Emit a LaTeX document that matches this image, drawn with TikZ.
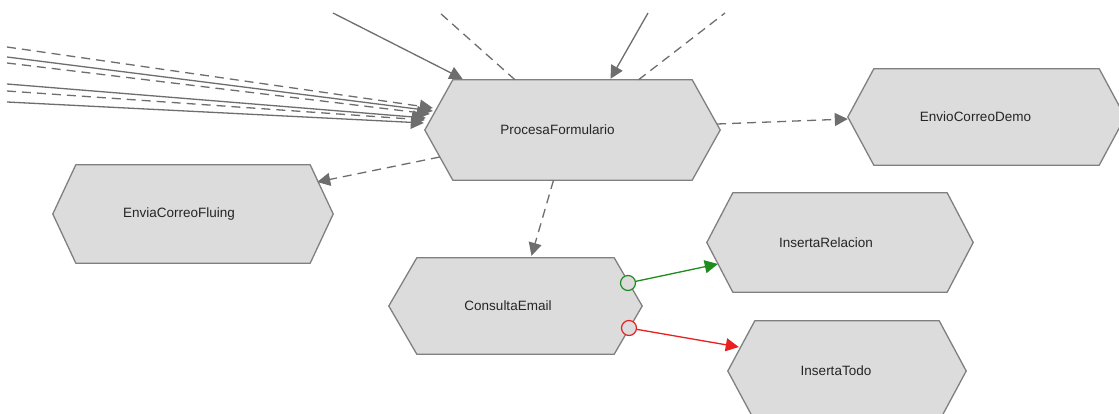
\documentclass[tikz,border=0pt]{standalone}
\usepackage{fontspec}
\setmainfont{Liberation Sans}
\usetikzlibrary{arrows.meta,calc,backgrounds}
\definecolor{hexfill}{HTML}{DCDCDC}
\definecolor{hexline}{HTML}{808080}
\definecolor{edgegray}{HTML}{6E6E6E}
\definecolor{txtgray}{HTML}{252525}
\definecolor{okgreen}{HTML}{1E8C1E}
\definecolor{errred}{HTML}{E82020}
\tikzset{
  hexnode/.style={rectangle, inner sep=0pt, draw=none, text=txtgray,
    font=\fontsize{13.5}{16}\selectfont},
  hexpath/.style={fill=hexfill, draw=hexline, line width=1.3pt, line join=round},
  flow/.style={draw=edgegray, line width=1.3pt},
  dflow/.style={draw=edgegray, line width=1.3pt, dash pattern=on 9pt off 6pt},
  tip/.style={-{Triangle[length=13pt,width=13pt]}},
  port/.style={circle, minimum size=15pt, inner sep=0pt, fill=hexfill, line width=1.2pt},
}
\newcommand\hexoutline[2]{%
  \path[hexpath] (#1.west) -- ($(#1.north west)+(#2,0)$) -- ($(#1.north east)+(-#2,0)$)
    -- (#1.east) -- ($(#1.south east)+(-#2,0)$) -- ($(#1.south west)+(#2,0)$) -- cycle;}
\begin{document}
\begin{tikzpicture}[x=1pt,y=-1pt]
\useasboundingbox (0,0) rectangle (1119,414);

% nodes
\node[hexnode, minimum width=295pt, minimum height=100pt] (pf) at (572.5,130) {ProcesaFormulario\kern30pt\relax};
\node[hexnode, minimum width=277pt, minimum height=96pt] (ecd) at (986.5,117) {EnvioCorreoDemo\kern22pt\relax};
\node[hexnode, minimum width=280pt, minimum height=98pt] (ecf) at (193,214) {EnviaCorreoFluing\kern28pt\relax};
\node[hexnode, minimum width=253pt, minimum height=96pt] (ce) at (515.5,306) {ConsultaEmail\kern15pt\relax};
\node[hexnode, minimum width=266pt, minimum height=99pt] (ir) at (840,242.5) {InsertaRelacion\kern28pt\relax};
\node[hexnode, minimum width=238pt, minimum height=100pt] (it) at (847,371) {InsertaTodo\kern22pt\relax};

\begin{pgfonlayer}{background}
  \fill[white] (0,0) rectangle (1119,414);
  \clip (0,0) rectangle (1119,414);
  \hexoutline{pf}{28}
  \hexoutline{ecd}{26}
  \hexoutline{ecf}{23}
  \hexoutline{ce}{28}
  \hexoutline{ir}{26}
  \hexoutline{it}{27}
\end{pgfonlayer}

% free ends
\coordinate (l1) at (7,47);
\coordinate (l2) at (7,57);
\coordinate (l3) at (7,63);
\coordinate (l4) at (7,84);
\coordinate (l5) at (7,91);
\coordinate (l6) at (7,102);
\coordinate (t1) at (333,13);
\coordinate (t2) at (440,13);
\coordinate (t3) at (648,13);
\coordinate (t4) at (725,13);

% incoming from the left
\draw[dflow, tip] (l1) -- ($(pf.west)+(8,-22)$);
\draw[flow, tip] (l2) -- ($(pf.west)+(8,-19)$);
\draw[dflow, tip] (l3) -- ($(pf.west)+(5,-16)$);
\draw[flow, tip] (l4) -- ($(pf.west)+(1,-12)$);
\draw[dflow, tip] (l5) -- ($(pf.west)+(0,-10)$);
\draw[flow, tip] (l6) -- ($(pf.west)+(-1,-7)$);

% top connectors
\draw[flow, tip] (t1) -- ($(pf.north)+(-110,-1)$);
\draw[dflow] ($(pf.north)+(-57.5,0)$) -- (t2);
\draw[flow, tip] (t3) -- ($(pf.north)+(38,-1)$);
\draw[dflow] ($(pf.north)+(66,0)$) -- (t4);

% outgoing
\draw[dflow, tip] ($(pf.east)+(-3,-6)$) -- ($(ecd.west)+(0,2)$);
\draw[dflow, tip] ($(pf.west)+(15,27)$) -- ($(ecf.east)+(-16,-32)$);
\draw[dflow, tip] ($(pf.south)+(-19,0)$) -- ($(ce.north)+(16,-2)$);

% ports
\node[port, draw=okgreen] (cg) at (628,283) {};
\node[port, draw=errred] (cr) at (629,328) {};
\draw[draw=okgreen, line width=1.3pt, tip] (cg) -- ($(ir.west)+(11,21.5)$);
\draw[draw=errred, line width=1.3pt, tip] (cr) -- ($(it.west)+(11,-24)$);
\end{tikzpicture}
\end{document}
